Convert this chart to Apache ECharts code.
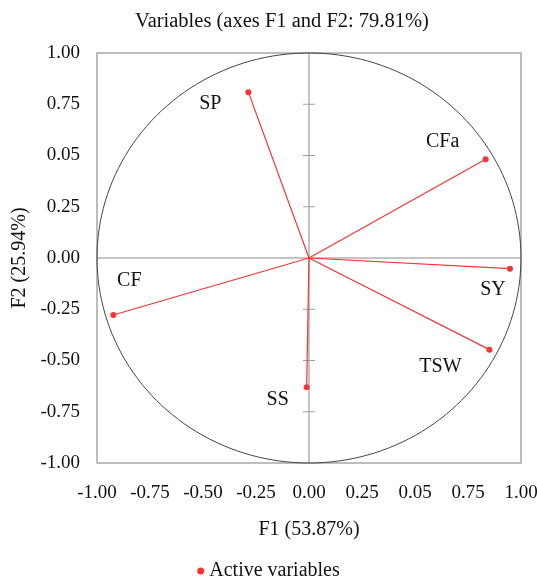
<!DOCTYPE html>
<html><head><meta charset="utf-8">
<script src="https://cdn.jsdelivr.net/npm/echarts@6/dist/echarts.min.js"></script>
<style>html,body{margin:0;padding:0;background:#fff}#c{width:537px;height:578px}</style>
</head><body><div id="c"></div>
<script>
const variables = ['SP', 'CFa', 'SY', 'TSW', 'SS', 'CF'];
const f1Values = [-0.286, 0.833, 0.948, 0.851, -0.011, -0.923];
const f2Values = [0.809, 0.482, -0.052, -0.447, -0.631, -0.278];
const tickLabels = ['-1.00', '-0.75', '-0.50', '-0.25', '0.00', '0.25', '0.05', '0.75', '1.00'];
const labelOffsets = [[-38, 12], [-43, -17], [-17, 21], [-49, 17], [-29, 12], [16, -34]];
const innerTicks = [-0.75, -0.5, -0.25, 0.25, 0.5, 0.75];

const FONT = 'Liberation Serif';
const RED = '#f53535';
const TXT = '#111';
const tickFmt = v => tickLabels[Math.round((v + 1) / 0.25)] ?? '';

const points = variables.map((n, i) => ({
  name: n, value: [f1Values[i], f2Values[i]],
  label: { offset: labelOffsets[i] }
}));

const chart = echarts.init(document.getElementById('c'));
chart.setOption({
  animation: false,
  title: {
    text: 'Variables (axes F1 and F2: 79.81%)', left: 277, top: 6, textAlign: 'center',
    textStyle: { fontFamily: FONT, fontSize: 20.5, fontWeight: 'normal', color: TXT }
  },
  legend: {
    bottom: -8, left: 'center', itemWidth: 7, itemHeight: 7, icon: 'circle', itemGap: 4,
    data: ['Active variables'],
    textStyle: { fontFamily: FONT, fontSize: 20, color: TXT }
  },
  grid: { left: 97, right: 16, top: 53, bottom: 115, show: true, borderColor: '#a8a8a8', borderWidth: 1.5, containLabel: false, outerBoundsMode: 'none' },
  xAxis: {
    type: 'value', min: -1, max: 1, interval: 0.25,
    name: 'F1 (53.87%)', nameLocation: 'middle', nameGap: 57,
    nameTextStyle: { fontFamily: FONT, fontSize: 20, color: TXT },
    axisLine: { show: false }, axisTick: { show: false }, splitLine: { show: false },
    axisLabel: { formatter: tickFmt, fontFamily: FONT, fontSize: 19, color: TXT, margin: 21, hideOverlap: false }
  },
  yAxis: {
    type: 'value', min: -1, max: 1, interval: 0.25,
    name: 'F2 (25.94%)', nameLocation: 'middle', nameGap: 66,
    nameTextStyle: { fontFamily: FONT, fontSize: 20, color: TXT },
    axisLine: { show: false }, axisTick: { show: false }, splitLine: { show: false },
    axisLabel: { formatter: tickFmt, fontFamily: FONT, fontSize: 19, color: TXT, margin: 17 }
  },
  series: [
    {
      type: 'custom', silent: true, z: 1,
      data: [0],
      renderItem: (params, api) => {
        const pts = [];
        for (let a = 0; a <= 360; a += 2) {
          const r = a * Math.PI / 180;
          pts.push(api.coord([Math.cos(r), Math.sin(r)]));
        }
        const o = api.coord([0, 0]);
        const l = api.coord([-1, 0]), rr = api.coord([1, 0]);
        const t = api.coord([0, 1]), b = api.coord([0, -1]);
        const children = [
          { type: 'line', shape: { x1: l[0], y1: o[1], x2: rr[0], y2: o[1] }, style: { stroke: '#b0b0b0', lineWidth: 1.5 } },
          { type: 'line', shape: { x1: o[0], y1: t[1], x2: o[0], y2: b[1] }, style: { stroke: '#b0b0b0', lineWidth: 1.5 } },
          { type: 'polyline', shape: { points: pts }, style: { stroke: '#444', lineWidth: 1, fill: null } }
        ];
        innerTicks.forEach(v => {
          const p = api.coord([0, v]);
          children.push({ type: 'line', shape: { x1: p[0] - 6, y1: p[1], x2: p[0] + 6, y2: p[1] }, style: { stroke: '#a0a0a0', lineWidth: 1 } });
        });
        return { type: 'group', children };
      }
    },
    {
      type: 'custom', silent: true, z: 2,
      data: variables.map((n, i) => [f1Values[i], f2Values[i]]),
      renderItem: (params, api) => {
        const o = api.coord([0, 0]);
        const p = api.coord([api.value(0), api.value(1)]);
        return { type: 'line', shape: { x1: o[0], y1: o[1], x2: p[0], y2: p[1] }, style: { stroke: RED, lineWidth: 1.2 } };
      }
    },
    {
      name: 'Active variables', type: 'scatter', z: 3,
      symbol: 'circle', symbolSize: 6,
      itemStyle: { color: RED, opacity: 1 },
      data: points,
      label: {
        show: true, position: 'inside', formatter: '{b}', opacity: 1,
        fontFamily: FONT, fontSize: 20, color: TXT, textBorderWidth: 0
      }
    }
  ]
});
</script>
</body></html>
